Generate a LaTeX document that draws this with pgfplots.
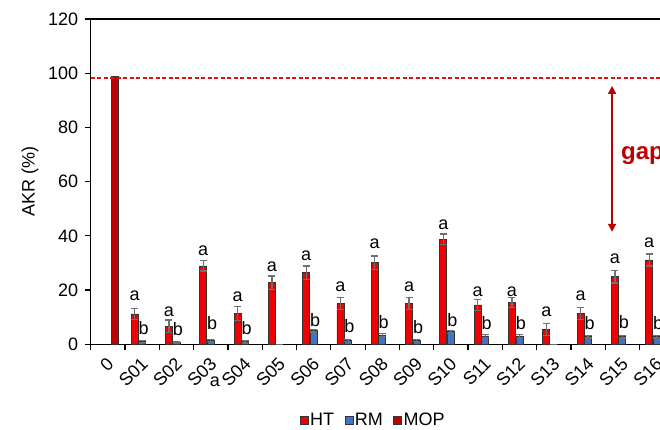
\documentclass[border=0pt]{standalone}
\usepackage{fontspec}
\setmainfont{Liberation Sans}
\usepackage{pgfplots}
\pgfplotsset{compat=1.18}
\usepackage{pgfplotstable}
\usetikzlibrary{arrows.meta}
\definecolor{htred}{HTML}{F00000}
\definecolor{rmblue}{HTML}{4472C4}
\definecolor{mopred}{HTML}{C00000}
\definecolor{gapred}{HTML}{C00000}
\definecolor{dashred}{HTML}{E01010}
\definecolor{errgray}{HTML}{707070}
\newcommand\fs{\fontsize{18}{21.6}\selectfont}

\pgfplotstableread{
x  ht   hterr rm  rmerr
1  11.2 2.1   1.0 0.4
2  6.7  2.3   0.6 0.3
3  28.9 1.9   1.5 0.4
4  11.4 2.5   1.0 0.4
5  22.7 2.5   0.0 0.0
6  26.4 2.5   5.0 0.5
7  15.1 2.2   1.5 0.4
8  30.1 2.5   3.4 0.5
9  15.1 2.2   1.5 0.4
10 38.7 2.0   4.6 0.5
11 14.5 2.1   3.1 0.5
12 15.4 1.9   3.1 0.5
13 5.5  2.2   0.0 0.0
14 11.4 2.2   2.8 0.5
15 24.9 2.3   2.8 0.5
16 31.1 2.2   2.8 0.5
}\data

\pgfplotstableread{
x  y    lab
1  16.3 a
2  10.4 a
3  32.8 a
4  15.7 a
5  26.8 a
6  30.8 a
7  19.4 a
8  35.4 a
9  19.4 a
10 42.4 a
11 17.8 a
12 17.8 a
13 10.4 a
14 16.3 a
15 29.9 a
16 35.8 a
}\alabels

\pgfplotstableread{
x  y   lab
1  3.8 b
2  3.4 b
3  5.5 b
4  3.8 b
6  6.5 b
7  4.3 b
8  5.9 b
9  4.0 b
10 6.7 b
11 5.3 b
12 5.3 b
14 5.3 b
15 5.9 b
16 5.3 b
}\blabels

\begin{document}
\begin{tikzpicture}
\useasboundingbox (-90.7pt,-84.7pt) rectangle (569.3pt,344.3pt);
\clip (-90.7pt,-84.7pt) rectangle (569.3pt,344.3pt);
\begin{axis}[
  at={(0pt,0pt)}, anchor=south west,
  x=34.3pt, y=2.711pt,
  xmin=-0.5, xmax=17.5, ymin=0, ymax=120,
  clip=false,
  font=\fs,
  axis line style={black, line width=1.5pt},
  tick style={black, line width=1.2pt},
  major tick length=6pt,
  tick align=outside,
  xtick pos=left, ytick pos=left,
  ytick={0,20,...,120},
  xtick={-0.5,0.5,...,17.5},
  x tick label as interval,
  xticklabels={0,S01,S02,S03,S04,S05,S06,S07,S08,S09,S10,S11,S12,S13,S14,S15,S16,{}},
  xticklabel style={font=\fs, rotate=45, anchor=east, xshift=-2pt, yshift=-9pt},
  yticklabel style={font=\fs, xshift=-3pt},
  /pgf/number format/assume math mode=true,
  ylabel={AKR (\%)},
  ylabel style={font=\fs, at={(axis description cs:-0.0983,0.5)}, anchor=center},
  legend columns=3,
  legend style={draw=none, fill=none, font=\fs, at={(axis description cs:0.4572,-0.2327)}, anchor=center,
    inner sep=0pt, nodes={inner sep=1.5pt},
    /tikz/every even column/.append style={column sep=9pt}},
  legend image code/.code={\draw[#1, line width=0.8pt] (0pt,-4pt) rectangle (8pt,4pt);},
  error bars/error bar style={errgray, line width=1.3pt},
  error bars/error mark options={errgray, line width=1.3pt, mark size=3.5pt, rotate=90},
]
% HT
\addplot[ybar, bar width=7pt, bar shift=0pt, fill=htred, draw=black!80, line width=0.8pt,
  error bars/.cd, y dir=both, y explicit]
  table[x expr=\thisrow{x}-0.2187, y=ht, y error=hterr] {\data};
\addlegendentry{HT}
% RM
\addplot[ybar, bar width=7pt, bar shift=0pt, fill=rmblue, draw=black!80, line width=0.8pt,
  error bars/.cd, y dir=both, y explicit]
  table[x=x, y=rm, y error=rmerr] {\data};
\addlegendentry{RM}
% MOP
\addplot[ybar, bar width=7pt, bar shift=0pt, fill=mopred, draw=black!80, line width=0.8pt]
  coordinates {(0.2187,98.8)};
\addlegendentry{MOP}
% reference line
\addplot[forget plot, draw=dashred, line width=1.4pt, dash pattern=on 4pt off 2.5pt]
  coordinates {(-0.5,98.3) (17.5,98.3)};
% letters
\addplot[forget plot, draw=none, mark=none, nodes near coords, point meta=explicit symbolic,
  nodes near coords style={anchor=base, xshift=-7.5pt, inner sep=0pt, text=black, font=\fs}]
  table[x=x, y=y, meta=lab] {\alabels};
\addplot[forget plot, draw=none, mark=none, nodes near coords, point meta=explicit symbolic,
  nodes near coords style={anchor=base, xshift=1.5pt, inner sep=0pt, text=black, font=\fs}]
  table[x=x, y=y, meta=lab] {\blabels};
% annotations
\draw[gapred, line width=1.5pt, {Triangle[length=8pt,width=8pt]}-{Triangle[length=8pt,width=8pt]}]
  (axis cs:14.7,95.3) -- (axis cs:14.7,41.5);
\node[anchor=west, inner sep=0pt, text=gapred, font=\fontsize{24}{28}\selectfont\bfseries]
  at (axis cs:14.96,69.8) {gap};
\node[anchor=base, inner sep=0pt, font=\fs] at (axis cs:3.124,-15.7) {a};
\end{axis}
\end{tikzpicture}
\end{document}
